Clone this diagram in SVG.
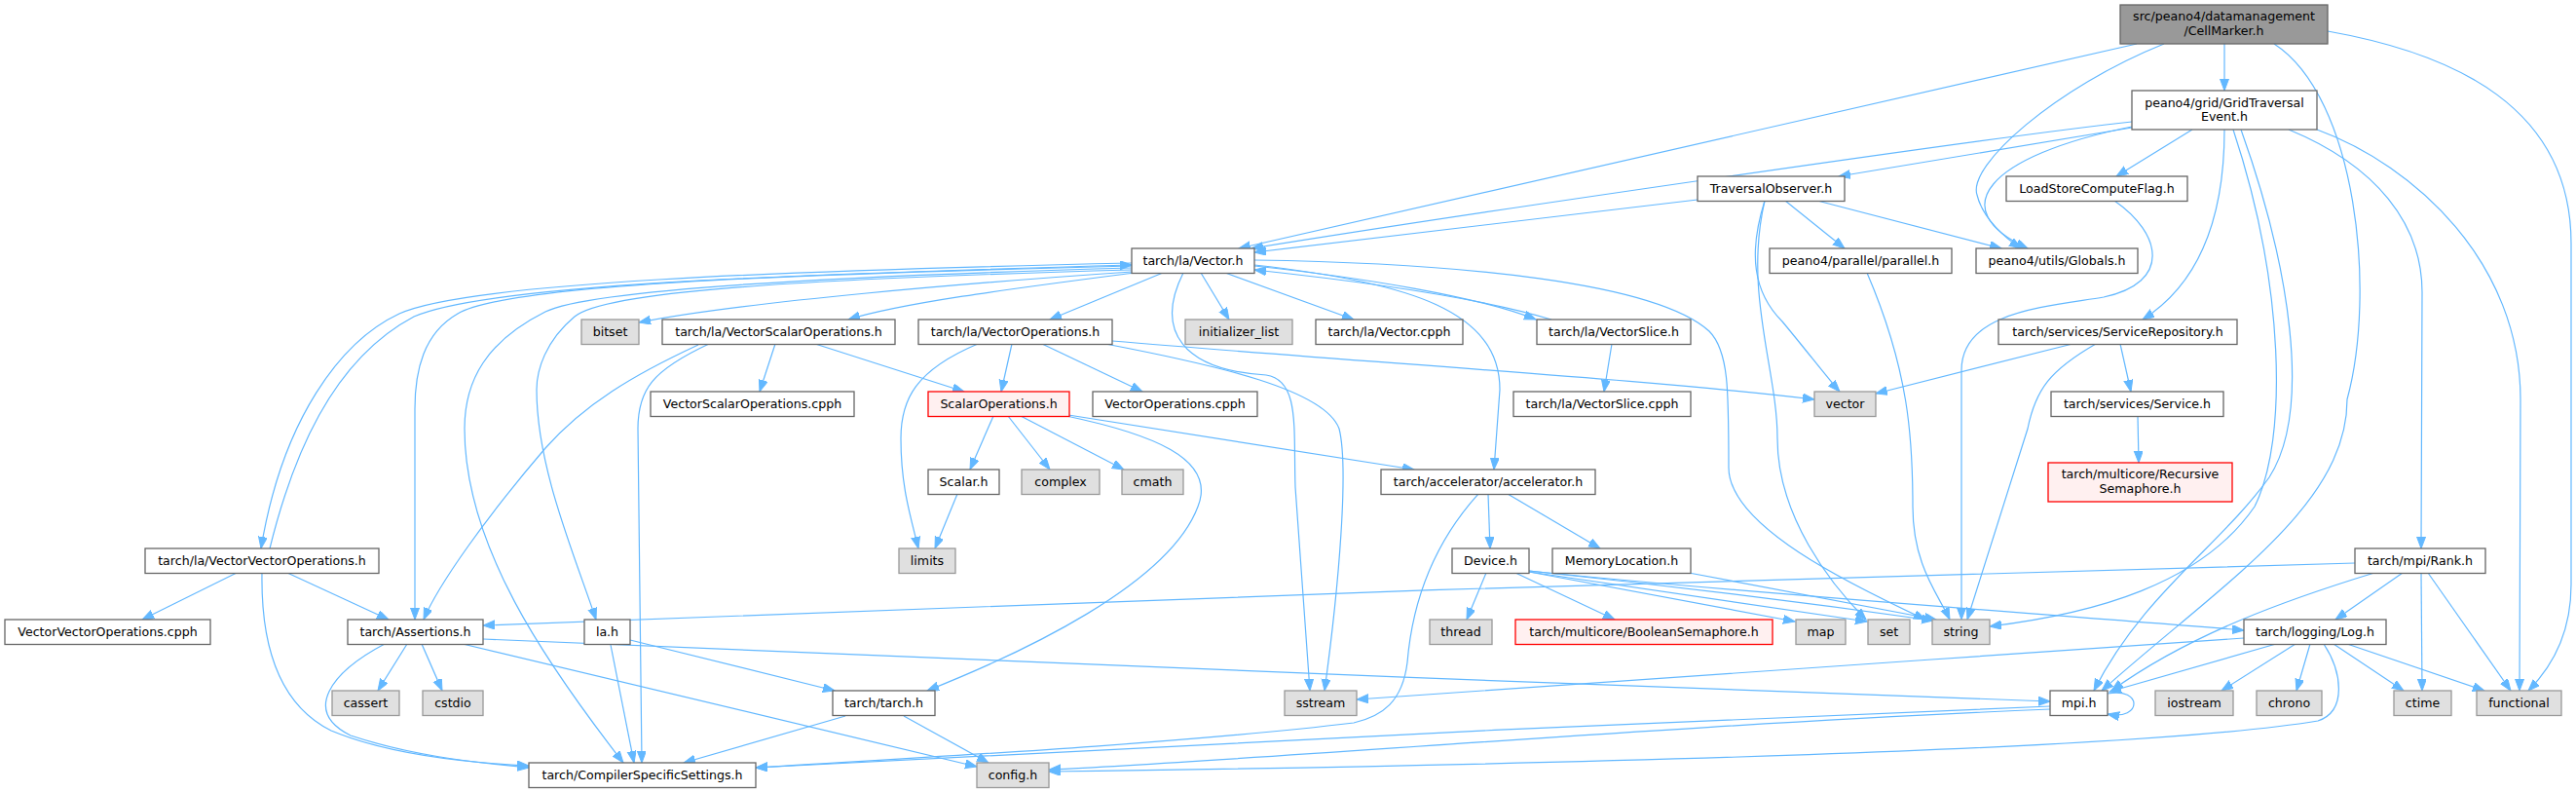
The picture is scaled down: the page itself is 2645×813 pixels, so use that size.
<svg xmlns="http://www.w3.org/2000/svg" width="2645" height="813" viewBox="0 0 2645 813">
<style>
.w{fill:#ffffff;stroke:#666666;stroke-width:1.3}
.g{fill:#e0e0e0;stroke:#999999;stroke-width:1.3}
.r{fill:#fff0f0;stroke:#ff0000;stroke-width:1.3}
.root{fill:#999999;stroke:#666666;stroke-width:1.3}
text{font-family:"DejaVu Sans","Liberation Sans",sans-serif;font-size:12.6px;text-anchor:middle;fill:#000000}
#edges path{fill:none;stroke:#63b8ff;stroke-width:1.2;marker-end:url(#a)}
</style>
<defs>
<marker id="a" markerUnits="userSpaceOnUse" markerWidth="13" markerHeight="10" refX="12" refY="4.5" orient="auto">
<path d="M0,0 L12,4.5 L0,9 z" fill="#63b8ff" stroke="#63b8ff" stroke-width="1"/>
</marker>
</defs>
<rect width="2645" height="813" fill="#ffffff"/>
<g id="edges">
<path d="M2284,45 L2284,93"/>
<path d="M2194,45 L1272,255"/>
<path d="M2222,45 C2110,90 2020,170 2030,200 C2036,225 2060,245 2075,255"/>
<path d="M2335,45 C2420,100 2440,300 2410,410 C2410,520 2280,600 2158,709"/>
<path d="M2390,32 C2520,55 2640,110 2640,250 L2640,600 C2640,650 2620,685 2596,709"/>
<path d="M2189,125 C2050,140 1500,220 1285,255"/>
<path d="M2189,131 L1888,181"/>
<path d="M2251,133 L2173,181"/>
<path d="M2189,130 C2040,160 1995,215 2082,255"/>
<path d="M2284,133 C2284,220 2260,290 2200,328"/>
<path d="M2293,133 C2345,290 2350,450 2315,520 C2260,600 2150,630 2043,643"/>
<path d="M2301,133 C2350,270 2375,420 2330,490 C2280,560 2200,610 2150,709"/>
<path d="M2350,133 C2440,170 2487,230 2487,300 L2486,563"/>
<path d="M2379,133 C2480,170 2588,270 2588,410 L2587,709"/>
<path d="M1743,205 L1288,259"/>
<path d="M1833,206 L1894,255"/>
<path d="M1866,206 L2055,255"/>
<path d="M1812,206 C1795,260 1800,300 1830,330 C1855,360 1878,390 1889,402"/>
<path d="M1812,206 C1790,300 1825,380 1825,450 C1825,530 1880,600 1916,636"/>
<path d="M2171,206 C2220,240 2230,290 2160,305 C2100,315 2014,320 2014,380 L2014,636"/>
<path d="M1917,280 C1960,380 1964,450 1964,520 C1964,580 1990,610 2002,636"/>
<path d="M2128,353 L1926,404"/>
<path d="M2152,353 C2105,380 2090,400 2082,440 L2020,636"/>
<path d="M2177,353 L2188,402"/>
<path d="M2195,427 L2196,475"/>
<path d="M1162,279 C1000,290 760,310 656,331"/>
<path d="M1165,280 C1050,295 930,310 871,328"/>
<path d="M1194,280 L1078,328"/>
<path d="M1233,280 L1262,328"/>
<path d="M1258,280 L1390,328"/>
<path d="M1288,273 C1400,285 1520,305 1577,328"/>
<path d="M1593,328 C1520,306 1400,289 1288,277"/>
<path d="M1655,353 L1647,402"/>
<path d="M1288,272 C1450,290 1540,320 1540,400 L1534,482"/>
<path d="M1288,267 C1500,270 1700,290 1755,340 C1775,360 1775,400 1775,480 C1775,540 1900,600 1977,636"/>
<path d="M1215,280 C1185,340 1215,380 1300,385 C1335,390 1328,440 1330,500 L1345,709"/>
<path d="M1135,353 C1250,375 1360,400 1375,440 C1385,480 1375,600 1360,709"/>
<path d="M1162,270 C800,278 480,290 410,322 C350,350 290,430 268,563"/>
<path d="M277,563 C300,470 340,370 425,325 C500,292 800,282 1162,272"/>
<path d="M1162,273 C800,282 520,292 470,322 C435,342 426,380 426,420 L426,636"/>
<path d="M1162,275 C800,285 600,300 560,320 C500,350 477,390 477,440 C477,560 560,680 640,783"/>
<path d="M1162,277 C800,287 620,300 590,325 C560,350 551,380 551,400 C551,480 590,570 612,636"/>
<path d="M796,353 L780,402"/>
<path d="M837,353 L990,402"/>
<path d="M717,354 C650,385 600,415 560,460 C500,530 450,600 435,636"/>
<path d="M728,353 C670,380 655,400 655,440 L659,783"/>
<path d="M1039,353 L1028,402"/>
<path d="M1004,353 C940,380 925,410 925,450 C925,500 935,530 943,563"/>
<path d="M1070,353 L1173,402"/>
<path d="M1142,350 C1400,372 1700,390 1863,410"/>
<path d="M1020,427 L996,482"/>
<path d="M1035,427 L1078,482"/>
<path d="M1048,427 L1154,482"/>
<path d="M1095,427 C1180,445 1250,470 1230,520 C1200,600 1050,670 952,709"/>
<path d="M1097,426 L1452,482"/>
<path d="M983,507 L960,563"/>
<path d="M1528,507 L1530,563"/>
<path d="M1548,507 L1643,563"/>
<path d="M1518,507 C1470,560 1450,620 1445,680 C1440,720 1420,735 1390,742 C1200,765 900,780 776,788"/>
<path d="M1526,588 L1506,636"/>
<path d="M1556,588 L1658,636"/>
<path d="M1570,587 L1843,638"/>
<path d="M1570,587 L1917,638"/>
<path d="M1570,586 C1750,605 1900,625 1985,637"/>
<path d="M1570,586 C1800,610 2100,630 2304,647"/>
<path d="M1734,588 L1988,636"/>
<path d="M2418,578 C1900,590 1000,620 496,642"/>
<path d="M2438,588 C2350,615 2250,650 2168,709"/>
<path d="M2467,588 L2398,636"/>
<path d="M2486,588 L2487,709"/>
<path d="M2493,588 L2578,709"/>
<path d="M2304,655 C2000,675 1600,705 1393,718"/>
<path d="M2337,661 L2166,710"/>
<path d="M2357,661 L2281,709"/>
<path d="M2372,661 L2358,709"/>
<path d="M2396,661 L2468,709"/>
<path d="M2410,661 L2551,709"/>
<path d="M2386,661 C2405,690 2410,730 2380,740 C2200,770 1600,785 1077,792"/>
<path d="M2164,712 C2200,705 2200,740 2164,733"/>
<path d="M2105,725 C1700,740 1100,770 776,788"/>
<path d="M2105,728 C1700,745 1300,780 1077,790"/>
<path d="M496,656 C900,670 1600,705 2105,720"/>
<path d="M418,661 L388,709"/>
<path d="M433,661 L454,709"/>
<path d="M395,661 C340,690 310,730 360,755 C420,775 480,782 543,788"/>
<path d="M475,661 L1003,787"/>
<path d="M647,657 L857,709"/>
<path d="M627,662 L651,783"/>
<path d="M868,735 L702,783"/>
<path d="M928,735 L1015,783"/>
<path d="M243,588 L146,636"/>
<path d="M295,588 L399,636"/>
<path d="M269,588 C268,650 280,720 340,750 C400,775 480,783 543,786"/>
</g>
<g id="n_cellmarker"><rect class="root" x="2177" y="5" width="213" height="40"/><text x="2283.5" y="21">src/peano4/datamanagement</text><text x="2283.5" y="36">/CellMarker.h</text></g>
<g id="n_gte"><rect class="w" x="2189" y="93" width="190" height="40"/><text x="2284" y="109.5">peano4/grid/GridTraversal</text><text x="2284" y="124">Event.h</text></g>
<g id="n_to"><rect class="w" x="1743" y="181" width="151" height="25.5"/><text x="1818.5" y="198">TraversalObserver.h</text></g>
<g id="n_lscf"><rect class="w" x="2060" y="181" width="186" height="25.5"/><text x="2153" y="198">LoadStoreComputeFlag.h</text></g>
<g id="n_vector"><rect class="w" x="1162" y="255" width="126" height="25.5"/><text x="1225" y="272">tarch/la/Vector.h</text></g>
<g id="n_parallel"><rect class="w" x="1817" y="255" width="187" height="25.5"/><text x="1910.5" y="272">peano4/parallel/parallel.h</text></g>
<g id="n_globals"><rect class="w" x="2029" y="255" width="166" height="25.5"/><text x="2112" y="272">peano4/utils/Globals.h</text></g>
<g id="n_bitset"><rect class="g" x="597" y="328" width="59" height="25.5"/><text x="626.5" y="345">bitset</text></g>
<g id="n_vso"><rect class="w" x="680" y="328" width="239" height="25.5"/><text x="799.5" y="345">tarch/la/VectorScalarOperations.h</text></g>
<g id="n_vo"><rect class="w" x="943" y="328" width="199" height="25.5"/><text x="1042.5" y="345">tarch/la/VectorOperations.h</text></g>
<g id="n_initlist"><rect class="g" x="1217" y="328" width="110" height="25.5"/><text x="1272" y="345">initializer_list</text></g>
<g id="n_vectorcpph"><rect class="w" x="1351" y="328" width="151" height="25.5"/><text x="1426.5" y="345">tarch/la/Vector.cpph</text></g>
<g id="n_vectorslice"><rect class="w" x="1578" y="328" width="158" height="25.5"/><text x="1657" y="345">tarch/la/VectorSlice.h</text></g>
<g id="n_servicerepo"><rect class="w" x="2052" y="328" width="245" height="25.5"/><text x="2174.5" y="345">tarch/services/ServiceRepository.h</text></g>
<g id="n_vsocpph"><rect class="w" x="668" y="402" width="209" height="25.5"/><text x="772.5" y="419">VectorScalarOperations.cpph</text></g>
<g id="n_scalarops"><rect class="r" x="953" y="402" width="145" height="25.5"/><text x="1025.5" y="419">ScalarOperations.h</text></g>
<g id="n_vocpph"><rect class="w" x="1122" y="402" width="169" height="25.5"/><text x="1206.5" y="419">VectorOperations.cpph</text></g>
<g id="n_vscpph"><rect class="w" x="1554" y="402" width="182" height="25.5"/><text x="1645" y="419">tarch/la/VectorSlice.cpph</text></g>
<g id="n_vectorstd"><rect class="g" x="1863" y="402" width="63" height="25.5"/><text x="1894.5" y="419">vector</text></g>
<g id="n_service"><rect class="w" x="2106" y="402" width="177" height="25.5"/><text x="2194.5" y="419">tarch/services/Service.h</text></g>
<g id="n_scalar"><rect class="w" x="953" y="482" width="73" height="25.5"/><text x="989.5" y="499">Scalar.h</text></g>
<g id="n_complex"><rect class="g" x="1049" y="482" width="80" height="25.5"/><text x="1089" y="499">complex</text></g>
<g id="n_cmath"><rect class="g" x="1152" y="482" width="63" height="25.5"/><text x="1183.5" y="499">cmath</text></g>
<g id="n_accel"><rect class="w" x="1418" y="482" width="220" height="25.5"/><text x="1528" y="499">tarch/accelerator/accelerator.h</text></g>
<g id="n_recsem"><rect class="r" x="2103" y="475" width="189" height="40"/><text x="2197.5" y="491">tarch/multicore/Recursive</text><text x="2197.5" y="505.5">Semaphore.h</text></g>
<g id="n_vvo"><rect class="w" x="149" y="563" width="240" height="25.5"/><text x="269" y="580">tarch/la/VectorVectorOperations.h</text></g>
<g id="n_limits"><rect class="g" x="923" y="563" width="58" height="25.5"/><text x="952" y="580">limits</text></g>
<g id="n_device"><rect class="w" x="1491" y="563" width="79" height="25.5"/><text x="1530.5" y="580">Device.h</text></g>
<g id="n_memloc"><rect class="w" x="1594" y="563" width="142" height="25.5"/><text x="1665" y="580">MemoryLocation.h</text></g>
<g id="n_rank"><rect class="w" x="2418" y="563" width="134" height="25.5"/><text x="2485" y="580">tarch/mpi/Rank.h</text></g>
<g id="n_vvocpph"><rect class="w" x="5" y="636" width="211" height="25.5"/><text x="110.5" y="653">VectorVectorOperations.cpph</text></g>
<g id="n_assertions"><rect class="w" x="357" y="636" width="139" height="25.5"/><text x="426.5" y="653">tarch/Assertions.h</text></g>
<g id="n_la"><rect class="w" x="600" y="636" width="47" height="25.5"/><text x="623.5" y="653">la.h</text></g>
<g id="n_thread"><rect class="g" x="1468" y="636" width="64" height="25.5"/><text x="1500" y="653">thread</text></g>
<g id="n_boolsem"><rect class="r" x="1556" y="636" width="264" height="25.5"/><text x="1688" y="653">tarch/multicore/BooleanSemaphore.h</text></g>
<g id="n_map"><rect class="g" x="1844" y="636" width="51" height="25.5"/><text x="1869.5" y="653">map</text></g>
<g id="n_set"><rect class="g" x="1918" y="636" width="43" height="25.5"/><text x="1939.5" y="653">set</text></g>
<g id="n_string"><rect class="g" x="1984" y="636" width="59" height="25.5"/><text x="2013.5" y="653">string</text></g>
<g id="n_log"><rect class="w" x="2304" y="636" width="146" height="25.5"/><text x="2377" y="653">tarch/logging/Log.h</text></g>
<g id="n_cassert"><rect class="g" x="341" y="709" width="69" height="25.5"/><text x="375.5" y="726">cassert</text></g>
<g id="n_cstdio"><rect class="g" x="434" y="709" width="62" height="25.5"/><text x="465" y="726">cstdio</text></g>
<g id="n_tarch"><rect class="w" x="855" y="709" width="105" height="25.5"/><text x="907.5" y="726">tarch/tarch.h</text></g>
<g id="n_sstream"><rect class="g" x="1319" y="709" width="74" height="25.5"/><text x="1356" y="726">sstream</text></g>
<g id="n_mpi"><rect class="w" x="2105" y="709" width="59" height="25.5"/><text x="2134.5" y="726">mpi.h</text></g>
<g id="n_iostream"><rect class="g" x="2213" y="709" width="80" height="25.5"/><text x="2253" y="726">iostream</text></g>
<g id="n_chrono"><rect class="g" x="2317" y="709" width="67" height="25.5"/><text x="2350.5" y="726">chrono</text></g>
<g id="n_ctime"><rect class="g" x="2458" y="709" width="59" height="25.5"/><text x="2487.5" y="726">ctime</text></g>
<g id="n_functional"><rect class="g" x="2543" y="709" width="87" height="25.5"/><text x="2586.5" y="726">functional</text></g>
<g id="n_css"><rect class="w" x="543" y="783" width="233" height="25.5"/><text x="659.5" y="800">tarch/CompilerSpecificSettings.h</text></g>
<g id="n_config"><rect class="g" x="1003" y="783" width="74" height="25.5"/><text x="1040" y="800">config.h</text></g>
</svg>
